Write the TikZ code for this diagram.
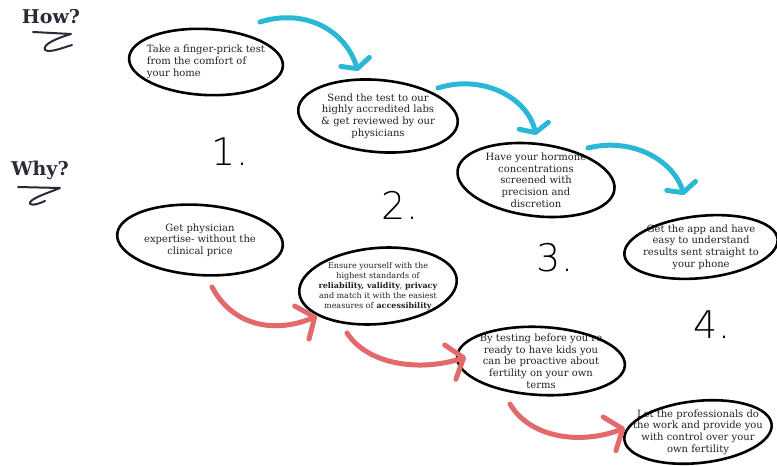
\documentclass[tikz,border=0pt]{standalone}
\usepackage{fontspec}
\setmainfont{DejaVu Serif}
\newfontfamily\handfont{DejaVu Sans ExtraLight}
\usetikzlibrary{shapes.geometric,arrows.meta}
\definecolor{howcyan}{HTML}{2BB8D6}
\definecolor{whyred}{HTML}{E26A6A}
\definecolor{inkgray}{HTML}{222222}
\definecolor{headink}{HTML}{2A2A38}

\begin{document}
\begin{tikzpicture}[x=1pt,y=-1pt,
  bubble/.style={align=center, text=inkgray, inner sep=0pt,
    font=\fontsize{10}{11.7}\selectfont},
  smallbubble/.style={bubble, font=\fontsize{8}{10}\selectfont},
  rim/.style={line width=2.6pt, black},
  heading/.style={text=headink, font=\bfseries\fontsize{19}{22}\selectfont},
  squiggle/.style={line width=2pt, headink, line cap=round, line join=round},
  stepnum/.style={text=black, font=\handfont\fontsize{38}{40}\selectfont},
  flow/.style={line width=5pt, line cap=round},
  howarrow/.style={flow, howcyan, -{Straight Barb[length=7pt, width=30pt, round]}},
  whyarrow/.style={flow, whyred, -{Straight Barb[length=14pt, width=36pt, round]}}
]
\useasboundingbox (0,0) rectangle (777,466);

% headings with their squiggles
\node[heading] (how) at (51,17) {How?};
\draw[squiggle] (33,32) -- (71,34) .. controls (58,38) and (42,44) .. (45,50)
  .. controls (50,53) and (62,48) .. (72,45);
\node[heading] (why) at (40,170) {Why?};
\draw[squiggle] (18,187) -- (60,188) .. controls (48,193) and (28,199) .. (30,204)
  .. controls (34,206) and (40,203) .. (45,201);

% "How?" steps
\node[bubble, align=left] (s1) at (206,62)
  {Take a finger-prick test\\from the comfort of\\your home};
\draw[rim, rotate around={-3:(s1.center)}] (s1.center) ellipse [x radius=77pt, y radius=33pt];

\node[bubble] (s2) at (378,116)
  {Send the test to our\\highly accredited labs\\\& get reviewed by our\\physicians};
\draw[rim, rotate around={-5:(s2.center)}] (s2.center) ellipse [x radius=80pt, y radius=36pt];

\node[bubble] (s3) at (536,180)
  {Have your hormone\\concentrations\\screened with\\precision and\\discretion};
\draw[rim, rotate around={-7:(s3.center)}] (s3.center) ellipse [x radius=79pt, y radius=36pt];

\node[bubble] (s4) at (701,247)
  {Get the app and have\\easy to understand\\results sent straight to\\your phone};
\draw[rim, rotate around={6:(s4.center)}] (s4.center) ellipse [x radius=77pt, y radius=31pt];

% "Why?" reasons
\node[bubble] (r1) at (200,240)
  {Get physician\\expertise- without the\\clinical price};
\draw[rim, rotate around={-4:(r1.center)}] (r1.center) ellipse [x radius=83pt, y radius=35pt];

\node[smallbubble] (r2) at (378,286)
  {Ensure yourself with the\\highest standards of\\\textbf{reliability, validity}, \textbf{privacy}\\and match it with the easiest\\measures of \textbf{accessibility}};
\draw[rim, rotate around={5:(r2.center)}] (r2.center) ellipse [x radius=79pt, y radius=38pt];

\node[bubble] (r3) at (541,361)
  {By testing before you're\\ready to have kids you\\can be proactive about\\fertility on your own\\terms};
\draw[rim, rotate around={-3:(r3.center)}] (r3.center) ellipse [x radius=84pt, y radius=34pt];

\node[bubble] (r4) at (698,432)
  {Let the professionals do\\the work and provide you\\with control over your\\own fertility};
\draw[rim, rotate around={6:(r4.center)}] (r4.center) ellipse [x radius=74pt, y radius=31pt];

% step numbers
\node[stepnum] (n1) at (230,152) {1.};
\node[stepnum] (n2) at (400,205) {2.};
\node[stepnum] (n3) at (555,258) {3.};
\node[stepnum] (n4) at (712,325) {4.};

% cyan arrows between the steps
\coordinate (h1a) at (260,22);  \coordinate (h1b) at (358,71);
\coordinate (h2a) at (438,88);  \coordinate (h2b) at (536,135);
\coordinate (h3a) at (588,148); \coordinate (h3b) at (684,195);
\draw[howarrow] (h1a) .. controls (305,8) and (345,30) .. (h1b);
\draw[howarrow] (h2a) .. controls (482,74) and (527,97) .. (h2b);
\draw[howarrow] (h3a) .. controls (632,137) and (673,160) .. (h3b);

% red arrows between the reasons
\coordinate (w1a) at (212,287); \coordinate (w1b) at (317,316);
\coordinate (w2a) at (347,333); \coordinate (w2b) at (466,357);
\coordinate (w3a) at (510,404); \coordinate (w3b) at (625,428);
\draw[whyarrow] (w1a) .. controls (235,330) and (280,332) .. (w1b);
\draw[whyarrow] (w2a) .. controls (368,365) and (420,372) .. (w2b);
\draw[whyarrow] (w3a) .. controls (530,438) and (580,445) .. (w3b);
\end{tikzpicture}
\end{document}
